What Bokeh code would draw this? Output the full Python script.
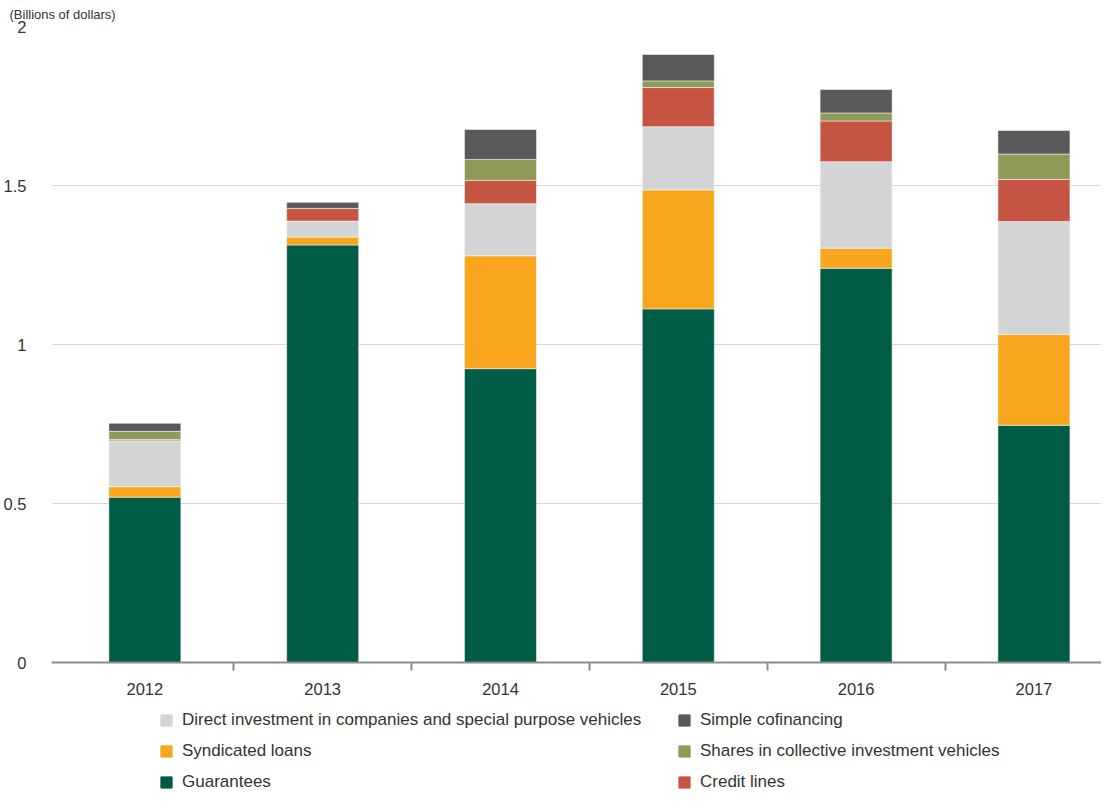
from bokeh.plotting import figure
from bokeh.layouts import column
from bokeh.models import (FixedTicker, Legend, LegendItem, Range1d, ColumnDataSource)
from bokeh.embed import file_html
from bokeh.resources import INLINE

# ---- data (billions of dollars) ----
years = ["2012", "2013", "2014", "2015", "2016", "2017"]
guarantees = [0.520, 1.313, 0.924, 1.112, 1.240, 0.746]
syndicated_loans = [0.033, 0.025, 0.355, 0.374, 0.063, 0.286]
direct_investment = [0.144, 0.050, 0.164, 0.199, 0.272, 0.355]
credit_lines = [0.004, 0.040, 0.073, 0.123, 0.128, 0.132]
shares_civ = [0.026, 0.000, 0.066, 0.021, 0.025, 0.080]
simple_cofinancing = [0.025, 0.019, 0.094, 0.083, 0.074, 0.074]
y_ticks = [0, 0.5, 1, 1.5, 2]
y_tick_labels = ["0", "0.5", "1", "1.5", "2"]

series_keys = ["guarantees", "syndicated", "direct", "credit", "shares", "simple"]
series_names = ["Guarantees", "Syndicated loans",
                "Direct investment in companies and special purpose vehicles",
                "Credit lines", "Shares in collective investment vehicles",
                "Simple cofinancing"]
colors = ["#005C46", "#F9A61F", "#D3D4D6", "#C65442", "#8E9A58", "#58595B"]

xpos = list(range(len(years)))
source = ColumnDataSource(dict(
    x=xpos, guarantees=guarantees, syndicated=syndicated_loans,
    direct=direct_investment, credit=credit_lines, shares=shares_civ,
    simple=simple_cofinancing))

FONT = "Liberation Sans"
TEXT = "#333333"

p = figure(width=1101, height=697, output_backend="svg", toolbar_location=None,
           x_range=Range1d(-0.525, 5.380), y_range=Range1d(0, 2.0),
           min_border_left=44, min_border_right=0, min_border_top=0,
           min_border_bottom=0)
p.outline_line_color = None
p.background_fill_color = "white"
p.border_fill_color = "white"

# unit label as title, pulled to the left edge
p.title.text = "(Billions of dollars)"
p.title.align = "left"
p.title.offset = -42
p.title.standoff = 9
p.title.text_font = FONT
p.title.text_font_style = "normal"
p.title.text_font_size = "13px"
p.title.text_color = TEXT

renderers = p.vbar_stack(series_keys, x="x", width=0.405, color=colors,
                         source=source, line_color="white", line_alpha=0.5,
                         line_width=1)

# y axis
p.yaxis.ticker = FixedTicker(ticks=y_ticks)
p.yaxis.major_label_overrides = {t: l for t, l in zip(y_ticks, y_tick_labels)}
p.yaxis.axis_line_color = None
p.yaxis.major_tick_line_color = None
p.yaxis.minor_tick_line_color = None
p.yaxis.major_label_standoff = 19
p.yaxis.major_label_text_font = FONT
p.yaxis.major_label_text_font_size = "16.5px"
p.yaxis.major_label_text_color = TEXT

# x axis (ticks between categories, labels at centres)
p.xaxis.ticker = FixedTicker(ticks=xpos, minor_ticks=[i + 0.5 for i in xpos[:-1]])
p.xaxis.major_label_overrides = {i: y for i, y in zip(xpos, years)}
p.xaxis.axis_line_color = "#8c8c8c"
p.xaxis.axis_line_width = 2
p.xaxis.major_tick_line_color = None
p.xaxis.major_tick_out = 0
p.xaxis.major_tick_in = 0
p.xaxis.minor_tick_line_color = "#8c8c8c"
p.xaxis.minor_tick_line_width = 2
p.xaxis.minor_tick_out = 8
p.xaxis.minor_tick_in = 0
p.xaxis.major_label_standoff = 12
p.xaxis.major_label_text_font = FONT
p.xaxis.major_label_text_font_size = "16.5px"
p.xaxis.major_label_text_color = TEXT

p.xgrid.grid_line_color = None
p.ygrid.ticker = FixedTicker(ticks=y_ticks)
p.ygrid.grid_line_color = "#d9d9d9"
p.ygrid.grid_line_width = 1

# ---- legend panel: a bare figure whose frame is the whole canvas ----
lg = figure(width=1101, height=95, output_backend="svg", toolbar_location=None,
            x_axis_location=None, y_axis_location=None,
            x_range=Range1d(0, 1), y_range=Range1d(0, 1),
            min_border=0)
lg.outline_line_color = None
lg.grid.visible = False
# swatch-only renderers, kept outside the visible range
swatches = [lg.vbar(x=[-5], top=[-5], width=0.5, color=c) for c in colors]

order = [2, 1, 0, 5, 4, 3]
items = [LegendItem(label=series_names[i], renderers=[swatches[i]]) for i in order]
legend = Legend(items=items, location=(108, -2), orientation="vertical",
                nrows=3, padding=0, margin=0, spacing=7,
                glyph_width=14, glyph_height=14, label_height=24,
                label_width=488, label_standoff=9,
                label_text_font=FONT, label_text_font_size="17px",
                label_text_color=TEXT, border_line_color=None,
                background_fill_alpha=0)
lg.add_layout(legend, "center")

layout = column(p, lg, spacing=0)
open("out.html", "w").write(file_html(layout, INLINE))
